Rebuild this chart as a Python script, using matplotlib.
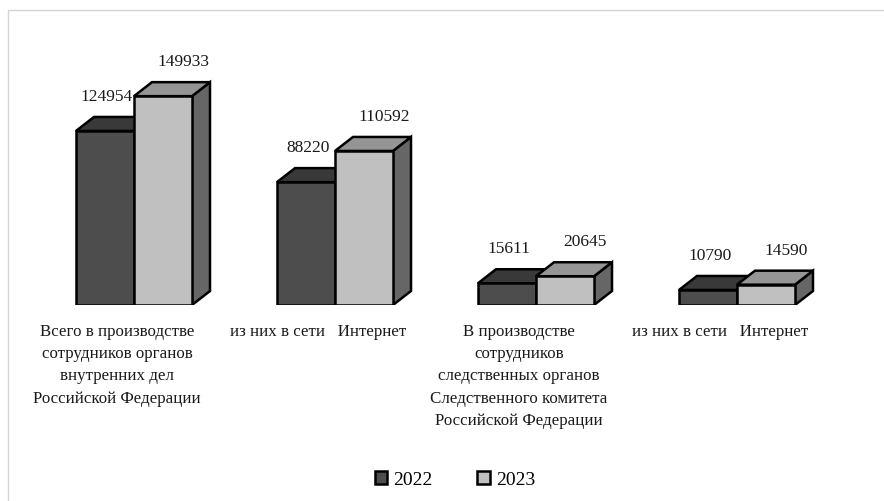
import matplotlib
matplotlib.use("Agg")
import matplotlib.pyplot as plt
from matplotlib.patches import Polygon, Patch, Rectangle

plt.rcParams['font.family'] = ['Liberation Serif', 'DejaVu Serif']

categories = [
    "Всего в производстве\nсотрудников органов\nвнутренних дел\nРоссийской Федерации",
    "из них в сети   Интернет",
    "В производстве\nсотрудников\nследственных органов\nСледственного комитета\nРоссийской Федерации",
    "из них в сети   Интернет",
]
series_names = ["2022", "2023"]
values_2022 = [124954, 88220, 15611, 10790]
values_2023 = [149933, 110592, 20645, 14590]

W, H = 884, 501
fig = plt.figure(figsize=(W / 100, H / 100), dpi=100)

# light frame (cropped at right/bottom like the reference)
fig.patches.append(Rectangle((8 / W, -0.2), 1.2, 1 - 10 / H + 0.2, transform=fig.transFigure,
                             fill=False, edgecolor='#d4d4d4', lw=1.0))

group_px = 201.0
ax_left_px = 134 - 0.6 * group_px
ax_right_px = 134 + 3.6 * group_px
ymax = 200000
units_per_px = 717.9
ax_h_px = ymax / units_per_px
base_px = 501 - 305
ax = fig.add_axes([ax_left_px / W, base_px / H, (ax_right_px - ax_left_px) / W, ax_h_px / H])
ax.set_xlim(-0.6, 3.6)
ax.set_ylim(0, ymax)
ax.axis('off')

w = 58 / group_px
ddx = 18 / group_px
ddy = 14 * units_per_px

styles = [
    dict(front='#4d4d4d', top='#393939', side='#5a5a5a'),
    dict(front='#c0c0c0', top='#959595', side='#666666'),
]
label_off = [(2, 34), (20, 34)]
lw = 1.8

for i in range(len(categories)):
    for s, vals in enumerate([values_2022, values_2023]):
        h = vals[i]
        x0 = i - w if s == 0 else i
        st = styles[s]
        z = 2 + s * 3
        side = Polygon([(x0 + w, 0), (x0 + w + ddx, ddy), (x0 + w + ddx, h + ddy), (x0 + w, h)],
                       closed=True, facecolor=st['side'], edgecolor='black', lw=lw,
                       joinstyle='miter', zorder=z)
        top = Polygon([(x0, h), (x0 + w, h), (x0 + w + ddx, h + ddy), (x0 + ddx, h + ddy)],
                      closed=True, facecolor=st['top'], edgecolor='black', lw=lw,
                      joinstyle='miter', zorder=z)
        ax.add_patch(side)
        ax.add_patch(top)
        ax.bar([x0], [h], width=w, align='edge', color=st['front'], edgecolor='black',
               lw=lw, zorder=z + 1).patches[0].set_joinstyle('miter')
        ox, oy = label_off[s]
        ax.annotate(str(h), xy=(x0 + w / 2, h), xytext=(ox, oy), textcoords='offset pixels',
                    ha='center', va='center', fontsize=12.5, color='#1a1a1a', zorder=10)
    ax.annotate(categories[i], xy=(i, 0), xytext=(-17, -19), textcoords='offset pixels',
                ha='center', va='top', fontsize=12.2, linespacing=1.52, color='#1a1a1a',
                multialignment='center', annotation_clip=False)

handles = [Patch(facecolor=styles[0]['front'], edgecolor='black', lw=lw),
           Patch(facecolor=styles[1]['front'], edgecolor='black', lw=lw)]
fig.legend(handles, series_names, loc='center', bbox_to_anchor=(455 / W, 21 / H), ncol=2,
           frameon=False, fontsize=14, handlelength=0.65, handleheight=0.65,
           handletextpad=0.3, columnspacing=2.3)

fig.savefig("out.png", dpi=100, facecolor='white')
